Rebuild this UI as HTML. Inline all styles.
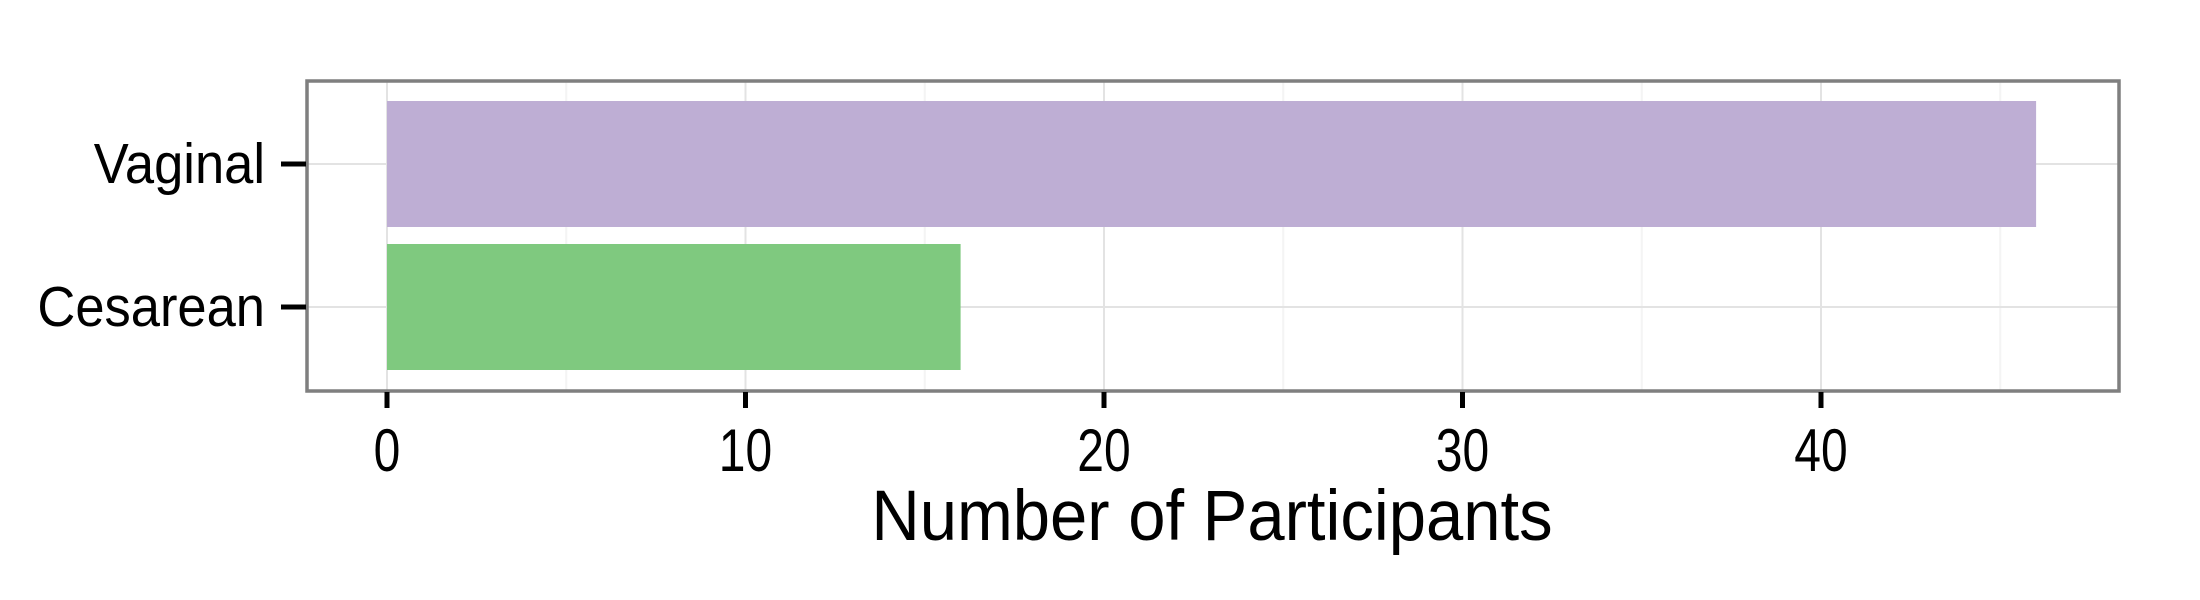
<!DOCTYPE html>
<html><head><meta charset="utf-8"><style>
html,body{margin:0;padding:0;background:#fff;width:2200px;height:600px;overflow:hidden}
text{font-family:"Liberation Sans",sans-serif;fill:#000}
</style></head><body>
<svg id="chart" width="2200" height="600" xmlns="http://www.w3.org/2000/svg"></svg>
<script>
const categories = ["Vaginal", "Cesarean"];
const values = [46, 16];
const barColors = ["#beaed4", "#7fc97f"];
const xTicks = [0, 10, 20, 30, 40];
const xMinor = [5, 15, 25, 35, 45];

const svg = document.getElementById('chart');
const NS = 'http://www.w3.org/2000/svg';
const P = {l: 307, r: 2119, t: 81, b: 391};
const x0 = 387, unit = 35.85;
function xs(v){ return x0 + v*unit; }
const catCenters = {Vaginal: 164, Cesarean: 307};
function ys(c){ return catCenters[c]; }
const bandH = 126;
function mk(tag, attrs, parent){
  const e = document.createElementNS(NS, tag);
  for (const k in attrs) e.setAttribute(k, attrs[k]);
  (parent||svg).appendChild(e);
  return e;
}
let e;
e = mk('rect',{x:P.l,y:P.t,width:P.r-P.l,height:P.b-P.t,fill:'#fff'});


xMinor.forEach(v=>{
  const g = mk('line',{x1:xs(v),x2:xs(v),y1:P.t,y2:P.b,stroke:'#f4f4f4','stroke-width':2});
  
  
});
xTicks.forEach(v=>{
  const g = mk('line',{x1:xs(v),x2:xs(v),y1:P.t,y2:P.b,stroke:'#e3e3e3','stroke-width':2});
  
  
});
categories.forEach(c=>{
  const g = mk('line',{x1:P.l,x2:P.r,y1:ys(c),y2:ys(c),stroke:'#e3e3e3','stroke-width':2});
  
  
});
categories.forEach((c,i)=>{
  const b = mk('rect',{x:xs(0),y:ys(c)-bandH/2,width:xs(values[i])-xs(0),height:bandH,fill:barColors[i]});
  
  
});
e = mk('rect',{x:P.l,y:P.t,width:P.r-P.l,height:P.b-P.t,fill:'none',stroke:'#7f7f7f','stroke-width':3.5});


categories.forEach(c=>{
  const t = mk('line',{x1:281,x2:P.l-1,y1:ys(c),y2:ys(c),stroke:'#000','stroke-width':5});
  
  
  const by = ys(c)+19;
  const l = mk('text',{x:265,y:by,'text-anchor':'end','font-size':52.5,transform:`translate(0 ${by}) scale(1 1.08) translate(0 ${-by})`});
  l.textContent = c;
  
  
});
xTicks.forEach(v=>{
  const t = mk('line',{x1:xs(v),x2:xs(v),y1:P.b+1,y2:408,stroke:'#000','stroke-width':5});
  
  
  const by = 471;
  const l = mk('text',{x:xs(v),y:by,'text-anchor':'middle','font-size':48,transform:`translate(0 ${by}) scale(1 1.25) translate(0 ${-by})`});
  l.textContent = v;
  
  
});
e = mk('text',{x:1212,y:540,'text-anchor':'middle','font-size':67,transform:'translate(0 540) scale(1 1.06) translate(0 -540)'});
e.textContent = 'Number of Participants';


</script>
</body></html>
